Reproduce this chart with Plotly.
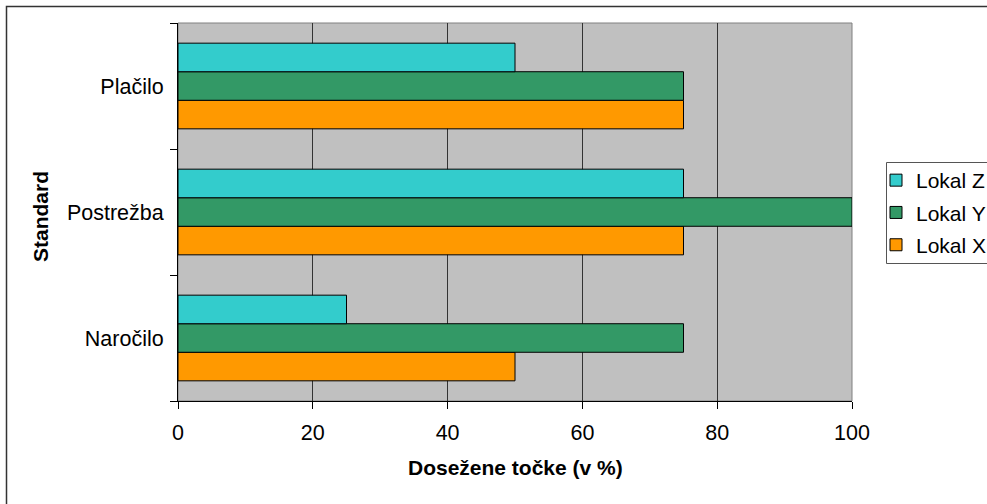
import plotly.graph_objects as go

categories = ["Naročilo", "Postrežba", "Plačilo"]
series_names = ["Lokal X", "Lokal Y", "Lokal Z"]
lokal_x = [50, 75, 75]
lokal_y = [75, 100, 75]
lokal_z = [25, 75, 50]
colors = ["#FF9900", "#339966", "#33CCCC"]
legend_ranks = [3, 2, 1]
x_ticks = [0, 20, 40, 60, 80, 100]

W, H = 987, 504
L, R, T, B = 178, 135, 23, 103
pw, ph = W - L - R, H - T - B

fig = go.Figure()
for name, vals, col, rk in zip(series_names, [lokal_x, lokal_y, lokal_z], colors, legend_ranks):
    fig.add_trace(go.Bar(
        y=categories, x=vals, name=name, orientation="h",
        marker=dict(color=col, line=dict(color="black", width=1)),
        legendgroup=name, legendrank=rk,
    ))

def px_x(p):
    return (p - L) / pw

def px_y(p):
    return (H - B - p) / ph

font = "Liberation Sans, Arial, sans-serif"
fs = 21.5
fig.update_layout(
    width=W, height=H,
    margin=dict(l=L, r=R, t=T, b=B, pad=0, autoexpand=False),
    paper_bgcolor="white", plot_bgcolor="#C0C0C0",
    barmode="group", bargap=0.32, bargroupgap=0,
    font=dict(family=font, size=fs, color="black"),
    showlegend=True,
    legend=dict(
        x=px_x(876), y=px_y(160), xanchor="left", yanchor="top",
        traceorder="grouped", tracegroupgap=2,
        bgcolor="rgba(0,0,0,0)", borderwidth=0,
        font=dict(family=font, size=21, color="black"),
    ),
    xaxis=dict(
        range=[0, 100], tickvals=x_ticks, ticktext=[str(v) for v in x_ticks],
        showgrid=True, gridcolor="#333333", gridwidth=1,
        showline=True, linecolor="black", linewidth=1,
        ticks="outside", ticklen=7, tickcolor="black",
        ticklabelstandoff=5,
        zeroline=False, fixedrange=True,
    ),
    yaxis=dict(
        categoryorder="array", categoryarray=categories,
        showgrid=False, showline=True, linecolor="black", linewidth=1,
        ticks="outside", ticklen=7, tickcolor="black", tickson="boundaries",
        ticklabelstandoff=9,
        zeroline=False,
    ),
    shapes=[
        dict(type="rect", xref="paper", yref="paper",
             x0=0, x1=1, y0=0, y1=1, line=dict(color="#808080", width=1),
             layer="below"),
        dict(type="rect", xref="paper", yref="paper",
             x0=px_x(6.5), x1=px_x(1000), y0=px_y(520), y1=px_y(6.5),
             line=dict(color="#333333", width=1.5)),
        dict(type="rect", xref="paper", yref="paper",
             x0=px_x(886.5), x1=px_x(1000), y0=px_y(263.5), y1=px_y(162.5),
             line=dict(color="#555555", width=1)),
    ],
    annotations=[
        dict(text="<b>Dosežene točke (v %)</b>", xref="paper", yref="paper",
             x=0.5, y=px_y(467), xanchor="center", yanchor="middle",
             showarrow=False, font=dict(family=font, size=fs - 0.5)),
        dict(text="<b>Standard</b>", xref="paper", yref="paper",
             x=px_x(40), y=px_y(217), xanchor="center", yanchor="middle",
             textangle=-90, showarrow=False, font=dict(family=font, size=fs - 0.5)),
    ],
)

fig.write_html("out.html")
